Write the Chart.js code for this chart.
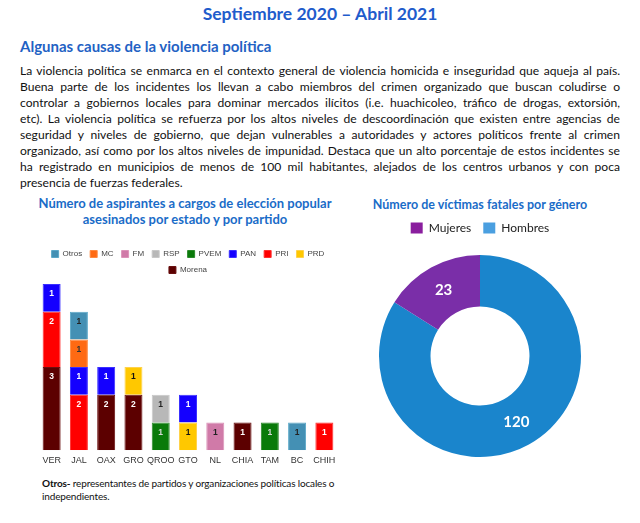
<!DOCTYPE html>
<html><head><meta charset="utf-8">
<script src="https://cdn.jsdelivr.net/npm/chart.js@4.4.0/dist/chart.umd.min.js"></script>
<style>
html,body{margin:0;padding:0;background:#fff;width:640px;height:523px;overflow:hidden;font-family:Lato,"Open Sans",sans-serif;}
.abs{position:absolute;}
#title{left:0;top:3px;width:640px;text-align:center;color:#1f5ccc;font-size:17.5px;font-weight:700;}
#sub{left:20px;top:37px;color:#1f62c4;font-size:15px;font-weight:700;}
#para{left:20px;top:63px;width:600px;font-size:12.1px;line-height:16px;color:#111;}
#para div{text-align:justify;text-align-last:justify;white-space:nowrap;}
#para div.last{text-align-last:left;}
#t1{left:20px;top:195px;width:330px;text-align:center;color:#1a6cc8;font-size:13px;font-weight:700;line-height:16px;}
#t2{left:360px;top:197px;width:240px;text-align:center;color:#1a6cc8;font-size:12.5px;font-weight:700;}
#note{left:42px;top:477px;width:320px;font-size:10px;line-height:13px;color:#111;letter-spacing:-0.15px;white-space:nowrap;}
</style></head>
<body>
<div id="title" class="abs">Septiembre 2020 – Abril 2021</div>
<div id="sub" class="abs">Algunas causas de la violencia política</div>
<div id="para" class="abs">
<div>La violencia política se enmarca en el contexto general de violencia homicida e inseguridad que aqueja al país.</div>
<div>Buena parte de los incidentes los llevan a cabo miembros del crimen organizado que buscan coludirse o</div>
<div>controlar a gobiernos locales para dominar mercados ilícitos (i.e. huachicoleo, tráfico de drogas, extorsión,</div>
<div>etc). La violencia política se refuerza por los altos niveles de descoordinación que existen entre agencias de</div>
<div>seguridad y niveles de gobierno, que dejan vulnerables a autoridades y actores políticos frente al crimen</div>
<div>organizado, así como por los altos niveles de impunidad. Destaca que un alto porcentaje de estos incidentes se</div>
<div>ha registrado en municipios de menos de 100 mil habitantes, alejados de los centros urbanos y con poca</div>
<div class="last">presencia de fuerzas federales.</div>
</div>
<div id="t1" class="abs">Número de aspirantes a cargos de elección popular<br>asesinados por estado y por partido</div>
<div id="t2" class="abs">Número de víctimas fatales por género</div>
<div class="abs" style="left:20px;top:240px;"><canvas id="bar" width="335" height="231"></canvas></div>
<div class="abs" style="left:370px;top:210px;"><canvas id="pie" width="220" height="258"></canvas></div>
<div id="note" class="abs"><b>Otros-</b> representantes de partidos y organizaciones políticas locales o<br>independientes.</div>
<script>
const states = ['VER','JAL','OAX','GRO','QROO','GTO','NL','CHIA','TAM','BC','CHIH'];
// stacking order bottom -> top
const parties = ['Morena','PRD','PRI','PAN','PVEM','RSP','FM','MC','Otros'];
const Morena = [3,null,2,2,null,null,null,1,null,null,null];
const PRD    = [null,null,null,1,null,1,null,null,null,null,null];
const PRI    = [2,2,null,null,null,null,null,null,null,null,1];
const PAN    = [1,1,1,null,null,1,null,null,null,null,null];
const PVEM   = [null,null,null,null,1,null,null,null,1,null,null];
const RSP    = [null,null,null,null,1,null,null,null,null,null,null];
const FM     = [null,null,null,null,null,null,1,null,null,null,null];
const MC     = [null,1,null,null,null,null,null,null,null,null,null];
const Otros  = [null,1,null,null,null,null,null,null,null,1,null];
const partyValues = [Morena,PRD,PRI,PAN,PVEM,RSP,FM,MC,Otros];
const partyColors = ['#5c0000','#ffc800','#ff0000','#1400ff','#0a7a0a','#b8b8b8','#d07aa8','#ff6a13','#4490b4'];
const partyBorders = ['#6a1010','#ffd24a','#ff3030','#3a30ff','#2a8a2a','#c8c8c8','#dc92b8','#ff8a40','#5aa8c8'];
const labelColors = ['#ffffff','#111111','#ffffff','#ffffff','#d8d8d8','#222222','#222222','#333333','#222222'];

const genders = ['Hombres','Mujeres'];
const victims = [120,23];
const genderColors = ['#1a85cc','#7a2ea8'];
const genderLegendColors = ['#4a9fe0','#8a1e9e'];

const barLabels = {
  id:'barLabels',
  afterDatasetsDraw(chart){
    const ctx = chart.ctx;
    ctx.save();
    ctx.font = 'bold 8.5px "Liberation Sans", Arial, sans-serif';
    ctx.textAlign='center'; ctx.textBaseline='middle';
    chart.data.datasets.forEach((ds,di)=>{
      const meta = chart.getDatasetMeta(di);
      meta.data.forEach((el,i)=>{
        const v = ds.data[i];
        if(v==null) return;
        ctx.fillStyle = labelColors[di];
        ctx.fillText(String(v), el.x, el.y + 10);
      });
    });
    ctx.restore();
  }
};

new Chart(document.getElementById('bar'),{
  type:'bar',
  data:{labels:states,datasets:parties.map((p,i)=>({label:p,data:partyValues[i],backgroundColor:partyColors[i],borderColor:partyBorders[i],borderWidth:1}))},
  options:{
    responsive:false,animation:false,
    layout:{padding:{left:18,right:17,top:2,bottom:0}},
    datasets:{bar:{categoryPercentage:1,barPercentage:0.66}},
    plugins:{
      legend:{position:'top',reverse:true,labels:{boxWidth:7,boxHeight:7,padding:8,color:'#444',font:{size:8,family:'"Liberation Sans", Arial, sans-serif'}}},
      tooltip:{enabled:false}
    },
    scales:{
      x:{stacked:true,grid:{display:false,drawTicks:false},border:{display:false},ticks:{padding:5,color:'#333',maxRotation:0,minRotation:0,autoSkip:false,font:{size:9,family:'"Liberation Sans", Arial, sans-serif'}}},
      y:{stacked:true,display:false,min:0,max:6}
    }
  },
  plugins:[barLabels]
});

const pieLabels = {
  id:'pieLabels',
  afterDatasetsDraw(chart){
    const ctx = chart.ctx;
    ctx.save();
    ctx.font = 'bold 15px Lato, sans-serif';
    ctx.fillStyle='#ffffff';
    ctx.textAlign='center'; ctx.textBaseline='middle';
    const meta = chart.getDatasetMeta(0);
    meta.data.forEach((el,i)=>{
      const p = el.tooltipPosition();
      ctx.fillText(String(chart.data.datasets[0].data[i]), p.x, p.y);
    });
    ctx.restore();
  }
};

new Chart(document.getElementById('pie'),{
  type:'doughnut',
  data:{labels:genders,datasets:[{data:victims,backgroundColor:genderColors,borderWidth:0}]},
  options:{
    responsive:false,animation:false,cutout:'49%',
    layout:{padding:{left:9,right:9,top:0,bottom:0}},
    plugins:{
      legend:{position:'top',reverse:true,labels:{boxWidth:12,boxHeight:11,padding:12,color:'#222',font:{size:12,family:'Lato, sans-serif'},
        generateLabels(chart){
          const items = Chart.overrides.doughnut.plugins.legend.labels.generateLabels(chart);
          items.forEach((it,i)=>{it.fillStyle=genderLegendColors[i];it.strokeStyle=genderLegendColors[i];it.lineWidth=0;});
          return items;
        }}},
      tooltip:{enabled:false}
    }
  },
  plugins:[pieLabels]
});
</script>
</body></html>
